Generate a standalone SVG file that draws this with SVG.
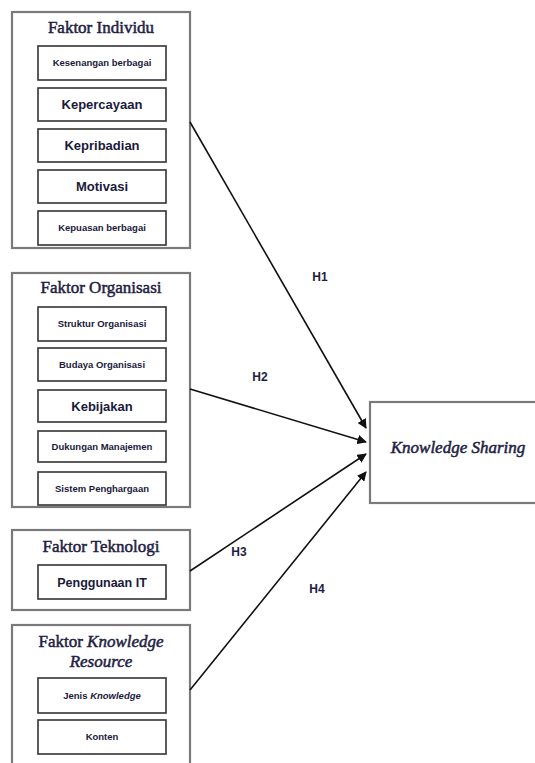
<svg xmlns="http://www.w3.org/2000/svg" width="535" height="763" viewBox="0 0 535 763">
<defs>
<style>
.outer{fill:#fff;stroke:#7a7a7a;stroke-width:2.2}
.inner{fill:#fff;stroke:#333;stroke-width:1.6}
.title{font-family:"Liberation Serif","Times New Roman",serif;font-size:17px;fill:#1e1e44;stroke:#1e1e44;stroke-width:0.5;text-anchor:middle}
.lbl{font-family:"Liberation Sans",Arial,sans-serif;font-weight:bold;fill:#1a1a3c;text-anchor:middle}
.s{font-size:9.5px}
.m{font-size:12.5px}
.l{font-size:13px}
.h{font-family:"Liberation Sans",Arial,sans-serif;font-weight:bold;font-size:12px;fill:#1e1e40;text-anchor:middle}
.conn{stroke:#111;stroke-width:1.6;fill:none;marker-end:url(#ah)}
</style>
<marker id="ah" viewBox="0 0 10 10" refX="9" refY="5" markerWidth="6" markerHeight="6" markerUnits="strokeWidth" orient="auto">
<path d="M0,0 L10,5 L0,10 z" fill="#111"/>
</marker>
</defs>
<rect width="535" height="763" fill="#fff"/>

<g id="faktor-individu">
<rect class="outer" x="12" y="12" width="178" height="236"/>
<text class="title" x="101" y="33">Faktor Individu</text>
<rect class="inner" x="38" y="46" width="128" height="34"/>
<text class="lbl s" x="102" y="66">Kesenangan berbagai</text>
<rect class="inner" x="38" y="88" width="128" height="33"/>
<text class="lbl l" x="102" y="109">Kepercayaan</text>
<rect class="inner" x="38" y="129" width="128" height="33"/>
<text class="lbl l" x="102" y="150">Kepribadian</text>
<rect class="inner" x="38" y="170" width="128" height="33"/>
<text class="lbl l" x="102" y="191">Motivasi</text>
<rect class="inner" x="38" y="211" width="128" height="34"/>
<text class="lbl s" x="102" y="231">Kepuasan berbagai</text>
</g>

<g id="faktor-organisasi">
<rect class="outer" x="12" y="273" width="178" height="234"/>
<text class="title" x="101" y="293">Faktor Organisasi</text>
<rect class="inner" x="38" y="307" width="128" height="34"/>
<text class="lbl s" x="102" y="327">Struktur Organisasi</text>
<rect class="inner" x="38" y="348" width="128" height="33"/>
<text class="lbl s" x="102" y="368">Budaya Organisasi</text>
<rect class="inner" x="38" y="390" width="128" height="32"/>
<text class="lbl l" x="102" y="411">Kebijakan</text>
<rect class="inner" x="38" y="431" width="128" height="31"/>
<text class="lbl s" x="102" y="450">Dukungan Manajemen</text>
<rect class="inner" x="38" y="472" width="128" height="33"/>
<text class="lbl s" x="102" y="492">Sistem Penghargaan</text>
</g>

<g id="faktor-teknologi">
<rect class="outer" x="12" y="530" width="178" height="80"/>
<text class="title" x="101" y="552">Faktor Teknologi</text>
<rect class="inner" x="38" y="565" width="128" height="34"/>
<text class="lbl m" x="102" y="587">Penggunaan IT</text>
</g>

<g id="faktor-knowledge-resource">
<rect class="outer" x="12" y="625" width="178" height="150"/>
<text class="title" x="101" y="647">Faktor <tspan font-style="italic">Knowledge</tspan></text>
<text class="title" x="101" y="667" font-style="italic">Resource</text>
<rect class="inner" x="38" y="678" width="128" height="35"/>
<text class="lbl s" x="102" y="699">Jenis <tspan font-style="italic">Knowledge</tspan></text>
<rect class="inner" x="38" y="720" width="128" height="34"/>
<text class="lbl s" x="102" y="740">Konten</text>
</g>

<g id="knowledge-sharing">
<rect class="outer" x="370" y="402" width="170" height="101"/>
<text class="title" x="458" y="453" font-style="italic">Knowledge Sharing</text>
</g>

<g id="connectors">
<line class="conn" x1="190" y1="122" x2="366" y2="428"/>
<line class="conn" x1="190" y1="389" x2="366" y2="442"/>
<line class="conn" x1="190" y1="571" x2="366" y2="454"/>
<line class="conn" x1="190" y1="690" x2="366" y2="472"/>
<text class="h" x="320" y="281">H1</text>
<text class="h" x="260" y="381">H2</text>
<text class="h" x="239" y="556">H3</text>
<text class="h" x="317" y="593">H4</text>
</g>
</svg>
